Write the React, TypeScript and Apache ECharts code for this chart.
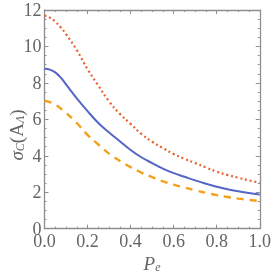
import React, { useEffect, useRef } from "react";
import * as echarts from "echarts";

const xValues = [0, 0.025, 0.05, 0.075, 0.1, 0.15, 0.2, 0.25, 0.3, 0.35, 0.4, 0.45, 0.5, 0.55, 0.6, 0.65, 0.7, 0.75, 0.8, 0.85, 0.9, 0.95, 1.0];
const solidBlue = [8.78, 8.73, 8.58, 8.3, 7.92, 7.15, 6.45, 5.8, 5.28, 4.8, 4.32, 3.92, 3.6, 3.3, 3.05, 2.85, 2.65, 2.47, 2.3, 2.16, 2.05, 1.96, 1.88];
const dottedRed = [11.7, 11.58, 11.36, 11.05, 10.68, 9.8, 8.75, 7.85, 6.98, 6.3, 5.75, 5.2, 4.77, 4.42, 4.1, 3.84, 3.6, 3.36, 3.13, 2.95, 2.8, 2.65, 2.52];
const dashedOrange = [7.02, 6.94, 6.8, 6.6, 6.36, 5.8, 5.15, 4.62, 4.12, 3.72, 3.38, 3.08, 2.83, 2.6, 2.42, 2.26, 2.11, 1.97, 1.84, 1.74, 1.65, 1.58, 1.52];
const xTicks = [0, 0.2, 0.4, 0.6, 0.8, 1.0];
const yTicks = [0, 2, 4, 6, 8, 10, 12];

const FRAME = "#8e8e8e";
const LABEL = "#646464";
const SERIF = "Liberation Serif, DejaVu Serif, serif";

export default function App() {
  const ref = useRef<HTMLDivElement>(null);
  useEffect(() => {
    if (!ref.current) return;
    const chart = echarts.init(ref.current, null, { renderer: "svg" });
    const pairs = (ys: number[]) => xValues.map((x, i) => [x, ys[i]]);
    const axisCommon = {
      type: "value" as const,
      axisLine: { show: true, onZero: false, lineStyle: { color: FRAME, width: 1.3 } },
      axisTick: { show: true, inside: true, length: 4, lineStyle: { color: FRAME, width: 1 } },
      minorTick: { show: true, splitNumber: 4, length: 2, lineStyle: { color: FRAME, width: 1 } },
      splitLine: { show: false },
    };
    chart.setOption({
      animation: false,
      grid: { left: 44.5, top: 10, right: 13, bottom: 45.3, containLabel: false },
      xAxis: [
        {
          ...axisCommon,
          min: 0,
          max: 1,
          interval: xTicks[1] - xTicks[0],
          position: "bottom",
          axisLabel: {
            show: true,
            margin: 3,
            color: LABEL,
            fontFamily: SERIF,
            fontSize: 18,
            formatter: (v: number) => v.toFixed(1),
            showMinLabel: true,
            showMaxLabel: true,
            hideOverlap: false,
          },
        },
        {
          ...axisCommon,
          min: 0,
          max: 1,
          interval: 0.2,
          position: "top",
          axisLabel: { show: false },
        },
      ],
      yAxis: [
        {
          ...axisCommon,
          min: yTicks[0],
          max: yTicks[yTicks.length - 1],
          interval: yTicks[1] - yTicks[0],
          position: "left",
          axisLabel: {
            show: true,
            margin: 3,
            color: LABEL,
            fontFamily: SERIF,
            fontSize: 18,
            showMinLabel: true,
            showMaxLabel: true,
            hideOverlap: false,
          },
        },
        {
          ...axisCommon,
          min: 0,
          max: 12,
          interval: 2,
          position: "right",
          axisLabel: { show: false },
        },
      ],
      graphic: [
        {
          type: "text",
          x: 15,
          y: 135,
          rotation: Math.PI / 2,
          style: {
            text: "{i|σ}{s|C}{n|(A}{s|Λ}{n|)}",
            align: "center",
            verticalAlign: "middle",
            rich: {
              i: { fontFamily: SERIF, fontStyle: "italic", fontSize: 19, fill: LABEL, verticalAlign: "bottom", lineHeight: 22 },
              n: { fontFamily: SERIF, fontSize: 19, fill: LABEL, verticalAlign: "bottom", lineHeight: 22 },
              s: { fontFamily: SERIF, fontStyle: "italic", fontSize: 12, fill: LABEL, verticalAlign: "bottom", lineHeight: 16 },
            },
          },
        },
        {
          type: "text",
          x: 152,
          y: 262,
          style: {
            text: "{i|P}{s|e}",
            align: "center",
            verticalAlign: "middle",
            rich: {
              i: { fontFamily: SERIF, fontStyle: "italic", fontSize: 19, fill: LABEL, verticalAlign: "bottom", lineHeight: 22 },
              s: { fontFamily: SERIF, fontStyle: "italic", fontSize: 12, fill: LABEL, verticalAlign: "bottom", lineHeight: 16 },
            },
          },
        },
      ],
      series: [
        {
          type: "line",
          data: pairs(dottedRed),
          smooth: 0.4,
          showSymbol: false,
          lineStyle: { color: "#e8612c", width: 2.2, type: [2, 2.8], cap: "butt" },
        },
        {
          type: "line",
          data: pairs(solidBlue),
          smooth: 0.4,
          showSymbol: false,
          lineStyle: { color: "#5566c6", width: 2 },
        },
        {
          type: "line",
          data: pairs(dashedOrange),
          smooth: 0.4,
          showSymbol: false,
          lineStyle: { color: "#f4a11a", width: 2.4, type: [7, 6] },
        },
      ],
    });
    return () => chart.dispose();
  }, []);
  return <div ref={ref} style={{ position: "fixed", left: 0, top: 0, width: 274, height: 274 }} />;
}
